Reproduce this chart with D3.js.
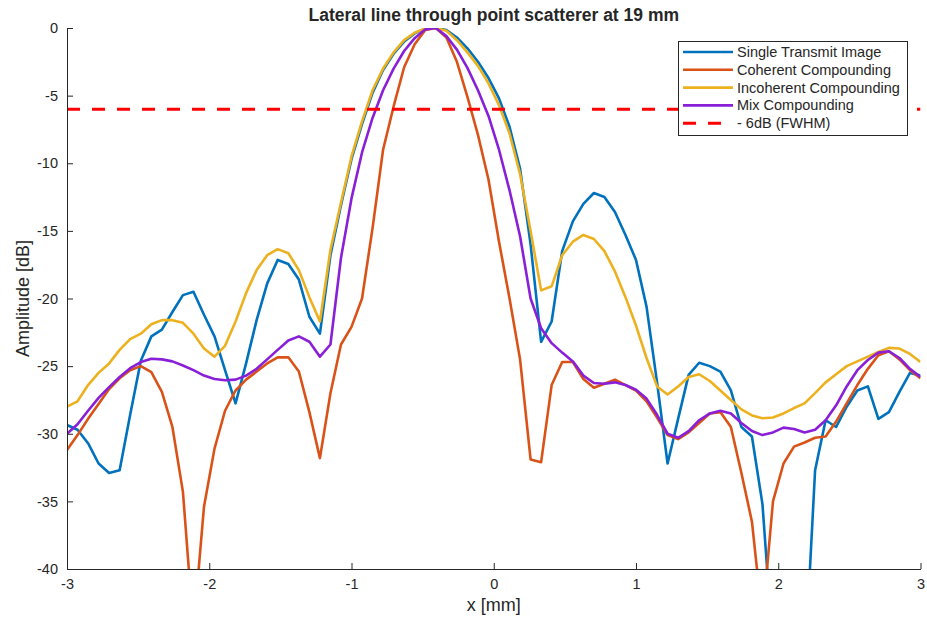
<!DOCTYPE html>
<html>
<head>
<meta charset="utf-8">
<script src="https://cdn.jsdelivr.net/npm/d3@7"></script>
<style>
  html, body { margin: 0; padding: 0; background: #ffffff; }
  svg { display: block; }
  text { font-family: "Liberation Sans", Arial, Helvetica, sans-serif; fill: #262626; }
</style>
</head>
<body>
<svg id="chart" width="927" height="620"></svg>
<script>
// Lateral positions of the samples [mm]
const xPos = [-3.000, -2.926, -2.852, -2.778, -2.704, -2.630, -2.556, -2.481, -2.407, -2.333,
  -2.259, -2.185, -2.111, -2.037, -1.963, -1.889, -1.815, -1.741, -1.667, -1.593,
  -1.519, -1.444, -1.370, -1.296, -1.222, -1.148, -1.074, -1.000, -0.926, -0.852,
  -0.778, -0.704, -0.630, -0.556, -0.481, -0.407, -0.333, -0.259, -0.185, -0.111,
  -0.037, 0.037, 0.111, 0.185, 0.259, 0.333, 0.407, 0.481, 0.556, 0.630,
  0.704, 0.778, 0.852, 0.926, 1.000, 1.074, 1.148, 1.222, 1.296, 1.370,
  1.444, 1.519, 1.593, 1.667, 1.741, 1.815, 1.889, 1.963, 2.037, 2.111,
  2.185, 2.259, 2.333, 2.407, 2.481, 2.556, 2.630, 2.704, 2.778, 2.852,
  2.926, 3.000];

// Normalised amplitude [dB] per beamforming method
const singleTransmit = [-29.35, -29.7, -30.7, -32.2, -32.9, -32.7, -28.6, -24.6, -22.8, -22.3,
  -21.0, -19.75, -19.5, -21.2, -22.8, -25.3, -27.75, -24.8, -21.6, -18.9,
  -17.15, -17.45, -18.6, -21.35, -22.6, -16.8, -13.1, -9.7, -7.1, -4.8,
  -3.1, -1.9, -1.0, -0.4, -0.05, 0, -0.15, -0.7, -1.5, -2.5,
  -3.7, -5.2, -7.3, -10.4, -16.0, -23.2, -21.7, -16.5, -14.3, -13.0,
  -12.2, -12.5, -13.6, -15.3, -17.15, -20.6, -26.2, -32.2, -28.9, -25.65,
  -24.75, -25.0, -25.4, -26.8, -29.5, -30.2, -35.2, -46.0, -52.0, -52.0,
  -47.6, -32.7, -29.0, -29.5, -28.0, -26.8, -26.5, -28.9, -28.4, -26.9,
  -25.5, -25.7];

const coherent = [-31.2, -30.1, -28.9, -27.8, -26.7, -25.9, -25.3, -25.0, -25.45, -26.9,
  -29.5, -34.3, -44.5, -35.4, -31.1, -28.3, -26.8, -26.0, -25.4, -24.8,
  -24.35, -24.35, -25.4, -28.4, -31.8, -27.0, -23.4, -22.1, -20.0, -14.8,
  -9.0, -5.8, -2.9, -1.2, -0.15, 0, -0.7, -2.5, -5.1, -7.9,
  -11.2, -15.8, -20.0, -24.5, -31.9, -32.1, -26.4, -24.7, -24.7, -25.95,
  -26.6, -26.3, -26.0, -26.4, -26.8, -27.6, -28.8, -30.1, -30.4, -29.9,
  -29.2, -28.5, -28.4, -29.5, -32.9, -36.5, -43.8, -35.0, -32.2, -30.95,
  -30.65, -30.3, -30.2, -29.1, -27.75, -26.4, -25.2, -24.2, -23.9, -24.5,
  -25.3, -25.9];

const incoherent = [-28.0, -27.6, -26.4, -25.5, -24.8, -23.8, -23.0, -22.6, -21.9, -21.6,
  -21.6, -21.8, -22.6, -23.7, -24.3, -23.5, -21.7, -19.6, -17.9, -16.8,
  -16.35, -16.65, -17.9, -19.9, -21.7, -16.4, -12.9, -9.5, -6.9, -4.6,
  -3.0, -1.8, -0.9, -0.35, -0.03, 0, -0.2, -0.9, -1.8, -2.8,
  -4.1, -5.7, -7.8, -10.8, -15.0, -19.4, -19.1, -16.8, -15.8, -15.3,
  -15.6, -16.5, -18.0, -19.9, -22.0, -24.4, -26.5, -27.1, -26.5, -25.8,
  -25.6, -26.1, -26.8, -27.5, -28.2, -28.65, -28.85, -28.8, -28.5, -28.1,
  -27.75, -27.0, -26.2, -25.6, -25.0, -24.65, -24.3, -23.95, -23.65, -23.7,
  -24.1, -24.7];

const mixCompounding = [-30.0, -29.3, -28.3, -27.35, -26.55, -25.8, -25.15, -24.7, -24.45, -24.5,
  -24.65, -24.95, -25.3, -25.7, -25.95, -26.05, -26.0, -25.7, -25.2, -24.5,
  -23.8, -23.1, -22.8, -23.2, -24.3, -23.4, -17.0, -12.6, -9.2, -6.65,
  -4.6, -3.0, -1.7, -0.75, -0.1, 0, -0.6, -1.6, -2.95, -4.6,
  -6.5, -9.0, -12.0, -15.4, -20.0, -22.2, -23.3, -24.0, -24.65, -25.7,
  -26.25, -26.3, -26.2, -26.4, -26.75, -27.4, -28.6, -30.0, -30.3, -29.8,
  -29.0, -28.5, -28.3, -28.5, -29.2, -29.8, -30.1, -29.9, -29.55, -29.65,
  -29.9, -29.7, -29.0, -27.9, -26.5, -25.3, -24.55, -24.0, -23.9, -24.4,
  -25.2, -25.8];

const fwhmLevel = -6;

const seriesNames = ["Single Transmit Image", "Coherent Compounding", "Incoherent Compounding", "Mix Compounding"];
const seriesColors = ["#0072BD", "#D95319", "#EDB120", "#8A1FD8"];
const seriesValues = [singleTransmit, coherent, incoherent, mixCompounding];
const fwhmLabel = "- 6dB (FWHM)";

const xTicks = [-3, -2, -1, 0, 1, 2, 3];
const yTicks = [0, -5, -10, -15, -20, -25, -30, -35, -40];

const titleText = "Lateral line through point scatterer at 19 mm";
const xLabel = "x [mm]";
const yLabel = "Amplitude [dB]";

// ---- layout ----
const plot = { left: 67, right: 920.5, top: 28, bottom: 569 };
const axisColor = "#262626";

const svg = d3.select("#chart");

const x = d3.scaleLinear().domain([-3, 3]).range([plot.left, plot.right]);
const y = d3.scaleLinear().domain([-40, 0]).range([plot.bottom, plot.top]);

svg.append("defs").append("clipPath").attr("id", "plotClip")
  .append("rect")
  .attr("x", plot.left).attr("y", plot.top)
  .attr("width", plot.right - plot.left).attr("height", plot.bottom - plot.top);

// ---- curves ----
const line = d3.line().x((d, i) => x(xPos[i])).y(d => y(d));
const curves = svg.append("g").attr("clip-path", "url(#plotClip)");

seriesValues.forEach((vals, s) => {
  curves.append("path")
    .datum(vals)
    .attr("d", line)
    .attr("fill", "none")
    .attr("stroke", seriesColors[s])
    .attr("stroke-width", 2.6)
    .attr("stroke-linejoin", "round");
});

// -6 dB reference line
curves.append("path")
  .datum([-3, 3])
  .attr("d", d3.line().x(d => x(d)).y(() => y(fwhmLevel)))
  .attr("fill", "none")
  .attr("stroke", "#FF0000")
  .attr("stroke-width", 3)
  .attr("stroke-dasharray", "13,12");

// ---- axes (ticks pointing inward) ----
const plainNumber = d => String(d);
const xAxis = d3.axisBottom(x).tickValues(xTicks).tickSizeInner(-6).tickSizeOuter(0)
  .tickPadding(10).tickFormat(plainNumber);
const yAxis = d3.axisLeft(y).tickValues(yTicks).tickSizeInner(-6).tickSizeOuter(0)
  .tickPadding(9).tickFormat(plainNumber);

const gx = svg.append("g").attr("transform", `translate(0,${plot.bottom})`).call(xAxis);
const gy = svg.append("g").attr("transform", `translate(${plot.left},0)`).call(yAxis);

[gx, gy].forEach(g => {
  g.select(".domain").attr("stroke", axisColor).attr("stroke-width", 1);
  g.selectAll(".tick line").attr("stroke", axisColor).attr("stroke-width", 1);
  g.selectAll(".tick text")
    .attr("fill", axisColor)
    .style("font-size", "14.5px")
    .style("font-family", "'Liberation Sans', Arial, sans-serif");
});
gx.selectAll(".tick text").attr("dy", "0.71em");

// ---- labels ----
svg.append("text")
  .attr("x", (plot.left + plot.right) / 2).attr("y", 21)
  .attr("text-anchor", "middle")
  .style("font-size", "17.5px").style("font-weight", "bold")
  .attr("fill", "#000")
  .text(titleText);

svg.append("text")
  .attr("x", (plot.left + plot.right) / 2).attr("y", 611)
  .attr("text-anchor", "middle")
  .style("font-size", "18px")
  .text(xLabel);

svg.append("text")
  .attr("transform", `translate(29,${(plot.top + plot.bottom) / 2}) rotate(-90)`)
  .attr("text-anchor", "middle")
  .style("font-size", "18px")
  .text(yLabel);

// ---- legend ----
const legend = { left: 678, top: 41, width: 229, height: 94, rowH: 17.8, firstRow: 52 };
const lg = svg.append("g");
lg.append("rect")
  .attr("x", legend.left + 0.5).attr("y", legend.top + 0.5)
  .attr("width", legend.width).attr("height", legend.height)
  .attr("fill", "#ffffff").attr("stroke", axisColor).attr("stroke-width", 1);

const legendItems = seriesNames.map((n, i) => ({ name: n, color: seriesColors[i], dash: null }))
  .concat([{ name: fwhmLabel, color: "#FF0000", dash: "13,12" }]);

legendItems.forEach((item, i) => {
  const cy = legend.firstRow + i * legend.rowH;
  lg.append("line")
    .attr("x1", 683).attr("x2", 733).attr("y1", cy).attr("y2", cy)
    .attr("stroke", item.color)
    .attr("stroke-width", item.dash ? 3 : 2.6)
    .attr("stroke-dasharray", item.dash);
  lg.append("text")
    .attr("x", 737).attr("y", cy)
    .attr("dy", "0.35em")
    .style("font-size", "14.5px")
    .attr("fill", "#000")
    .text(item.name);
});
</script>
</body>
</html>
